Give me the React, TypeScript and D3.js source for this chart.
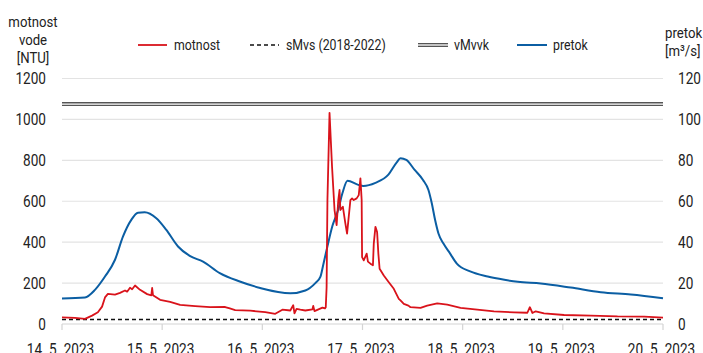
import React, { useRef, useEffect } from 'react';
import * as d3 from 'd3';

// hours after 14. 5. 2023 00:00
const motnostHours = [0, 3.1, 5.5, 7.2, 8.6, 9.6, 10.3, 11, 12.7, 13.9, 15.1, 15.6, 16.3, 16.8, 17.5, 18.7, 20.4, 21.4, 21.6, 21.8, 23.5, 25.9, 28.3, 31.9, 35.5, 39.1, 40.2, 41.5, 45.1, 48.7, 51.1, 52.8, 54.7, 55.4, 55.7, 56.2, 57.1, 58.3, 60, 60.2, 60.5, 62.4, 63, 63.2, 63.4, 63.6, 64.1, 64.7, 65.3, 65.8, 66.2, 66.5, 66.7, 67.3, 67.9, 68.3, 68.7, 69.1, 69.5, 69.9, 70.6, 71.1, 71.5, 71.8, 71.9, 72.3, 73, 73.3, 73.9, 74.5, 74.7, 75.1, 75.5, 75.8, 76.1, 77.1, 78.3, 79.5, 80.7, 81.1, 81.9, 83, 83.5, 85.9, 87.5, 89.9, 92.3, 95.5, 99.5, 103.5, 108.3, 111.5, 112.1, 112.7, 113.5, 115.5, 120.3, 126.7, 133.1, 139.5, 144];
const motnost = [32, 30, 25, 41, 57, 85, 130, 147, 144, 152, 164, 158, 177, 170, 188, 167, 146, 140, 176, 141, 118, 108, 93, 87, 82, 83, 76, 68, 65, 58, 50, 70, 66, 92, 52, 74, 70, 66, 72, 88, 63, 80, 76, 82, 180, 606, 1032, 770, 557, 483, 606, 655, 557, 573, 491, 442, 524, 606, 614, 606, 614, 630, 712, 606, 327, 311, 344, 305, 295, 287, 393, 475, 450, 344, 270, 237, 204, 172, 123, 115, 98, 90, 82, 79, 90, 101, 95, 79, 70, 62, 57, 55, 82, 54, 62, 52, 44, 41, 37, 36, 31];

const pretokHours = [0, 5.5, 7.9, 10.3, 12.7, 14.6, 16.6, 18.2, 19.8, 22.6, 25, 27.8, 30.6, 33.8, 37.8, 42.6, 47.5, 54.7, 58.3, 60.7, 61.9, 62.6, 63.6, 64.8, 66.2, 67.2, 68.4, 71, 72.2, 75.1, 78.2, 80.2, 81.1, 82.5, 84.5, 86.5, 87.8, 88.6, 89.4, 90.2, 91.4, 93, 94.6, 97.8, 102, 106, 109.2, 114.7, 121.9, 129.1, 136.3, 144];
const pretok = [12.5, 13, 16.7, 23.2, 31.4, 42.7, 50.9, 54.4, 54.6, 51.7, 46, 37.9, 33.3, 30.5, 24.9, 20.8, 17.6, 15, 16.4, 20, 23, 29, 38, 48, 56, 64, 70, 68, 67.5, 69, 73, 79, 81, 80.2, 75.3, 70.4, 65.5, 59, 50.8, 44.2, 39.3, 34.4, 29.5, 25.7, 23.2, 21.6, 20.6, 19.8, 17.8, 15.5, 14.4, 12.6];

const sMvs = 22;
const vMvvk = 1075;

const leftTicks = [0, 200, 400, 600, 800, 1000, 1200];
const rightTicks = [0, 20, 40, 60, 80, 100, 120];
const dayTicks = [14, 15, 16, 17, 18, 19, 20];

const RED = '#d9131b';
const BLUE = '#0b5ea3';
const FONT = 'Roboto, sans-serif';
const SQ = 0.85;

const width = 703;
const height = 353;
const margin = { top: 78.5, right: 40, bottom: 29, left: 62 };

const base = new Date(2023, 4, 14);
const toDate = (h: number) => new Date(base.getTime() + h * 3600 * 1000);

const App = () => {
  const ref = useRef<SVGSVGElement>(null);

  useEffect(() => {
    const svg = d3.select(ref.current);
    svg.selectAll('*').remove();

    const x = d3.scaleTime()
      .domain([new Date(2023, 4, 14), new Date(2023, 4, 20)])
      .range([margin.left, width - margin.right]);
    const yL = d3.scaleLinear().domain([0, 1200]).range([height - margin.bottom, margin.top]);
    const yR = d3.scaleLinear().domain([0, 120]).range([height - margin.bottom, margin.top]);

    // condensed-looking text
    const label = (g, tx, ty, str, anchor, size) =>
      g.append('text')
        .attr('transform', `translate(${tx},${ty}) scale(${SQ},1)`)
        .attr('text-anchor', anchor)
        .style('font-family', FONT)
        .style('font-size', `${size}px`)
        .attr('fill', '#222')
        .text(str);

    // grid
    svg.append('g')
      .selectAll('line')
      .data(leftTicks)
      .join('line')
      .attr('x1', margin.left)
      .attr('x2', width - margin.right)
      .attr('y1', d => yL(d))
      .attr('y2', d => yL(d))
      .attr('stroke', d => d === 0 ? '#d4d4d4' : '#e3e3e3')
      .attr('stroke-width', 1.2);

    // left tick labels
    leftTicks.forEach(t => label(svg, margin.left - 16, yL(t) + 5.5, String(t), 'end', 16));
    // right tick labels
    rightTicks.forEach(t => label(svg, width - margin.right + 15, yR(t) + 5.5, String(t), 'start', 16));

    // bottom axis ticks
    dayTicks.forEach(d => {
      const xx = x(new Date(2023, 4, d));
      svg.append('line')
        .attr('x1', xx).attr('x2', xx)
        .attr('y1', yL(0)).attr('y2', yL(0) + 6)
        .attr('stroke', '#d4d4d4').attr('stroke-width', 1.2);
      label(svg, xx - 1.5, yL(0) + 31, `${d}. 5. 2023`, 'middle', 16);
    });

    // vMvvk double line
    svg.append('line')
      .attr('x1', margin.left).attr('x2', width - margin.right)
      .attr('y1', yL(vMvvk)).attr('y2', yL(vMvvk))
      .attr('stroke', '#555').attr('stroke-width', 4);
    svg.append('line')
      .attr('x1', margin.left).attr('x2', width - margin.right)
      .attr('y1', yL(vMvvk)).attr('y2', yL(vMvvk))
      .attr('stroke', '#fff').attr('stroke-width', 1.3);

    // sMvs dashed line
    svg.append('line')
      .attr('x1', margin.left).attr('x2', width - margin.right)
      .attr('y1', yL(sMvs)).attr('y2', yL(sMvs))
      .attr('stroke', '#111').attr('stroke-width', 1.5)
      .attr('stroke-dasharray', '4,3');

    // pretok line
    const lineR = d3.line<number>()
      .x((d, i) => x(toDate(pretokHours[i])))
      .y(d => yR(d))
      .curve(d3.curveMonotoneX);
    svg.append('path')
      .attr('d', lineR(pretok))
      .attr('fill', 'none')
      .attr('stroke', BLUE)
      .attr('stroke-width', 2);

    // motnost line
    const lineL = d3.line<number>()
      .x((d, i) => x(toDate(motnostHours[i])))
      .y(d => yL(d));
    svg.append('path')
      .attr('d', lineL(motnost))
      .attr('fill', 'none')
      .attr('stroke', RED)
      .attr('stroke-width', 1.8)
      .attr('stroke-linejoin', 'round');

    // axis titles
    label(svg, 33, 27, 'motnost', 'middle', 15.5);
    label(svg, 33, 45, 'vode', 'middle', 15.5);
    label(svg, 33, 63, '[NTU]', 'middle', 15.5);
    label(svg, 665, 38, 'pretok', 'start', 15.5);
    label(svg, 665, 56, '[m³/s]', 'start', 15.5);

    // legend
    const ly = 45;
    const leg = svg.append('g');
    leg.append('line').attr('x1', 138).attr('x2', 167).attr('y1', ly).attr('y2', ly)
      .attr('stroke', RED).attr('stroke-width', 1.8);
    label(leg, 174, ly + 5, 'motnost', 'start', 14.5);

    leg.append('line').attr('x1', 250).attr('x2', 279).attr('y1', ly).attr('y2', ly)
      .attr('stroke', '#111').attr('stroke-width', 1.5).attr('stroke-dasharray', '4,3');
    label(leg, 286, ly + 5, 'sMvs (2018-2022)', 'start', 14.5);

    leg.append('line').attr('x1', 418).attr('x2', 448).attr('y1', ly).attr('y2', ly)
      .attr('stroke', '#555').attr('stroke-width', 4);
    leg.append('line').attr('x1', 418).attr('x2', 448).attr('y1', ly).attr('y2', ly)
      .attr('stroke', '#fff').attr('stroke-width', 1.3);
    label(leg, 454, ly + 5, 'vMvvk', 'start', 14.5);

    leg.append('line').attr('x1', 517).attr('x2', 547).attr('y1', ly).attr('y2', ly)
      .attr('stroke', BLUE).attr('stroke-width', 2);
    label(leg, 553, ly + 5, 'pretok', 'start', 14.5);
  }, []);

  return (
    <svg
      ref={ref}
      width={width}
      height={height}
      style={{ position: 'absolute', left: 0, top: 0, background: '#fff' }}
    />
  );
};

export default App;
